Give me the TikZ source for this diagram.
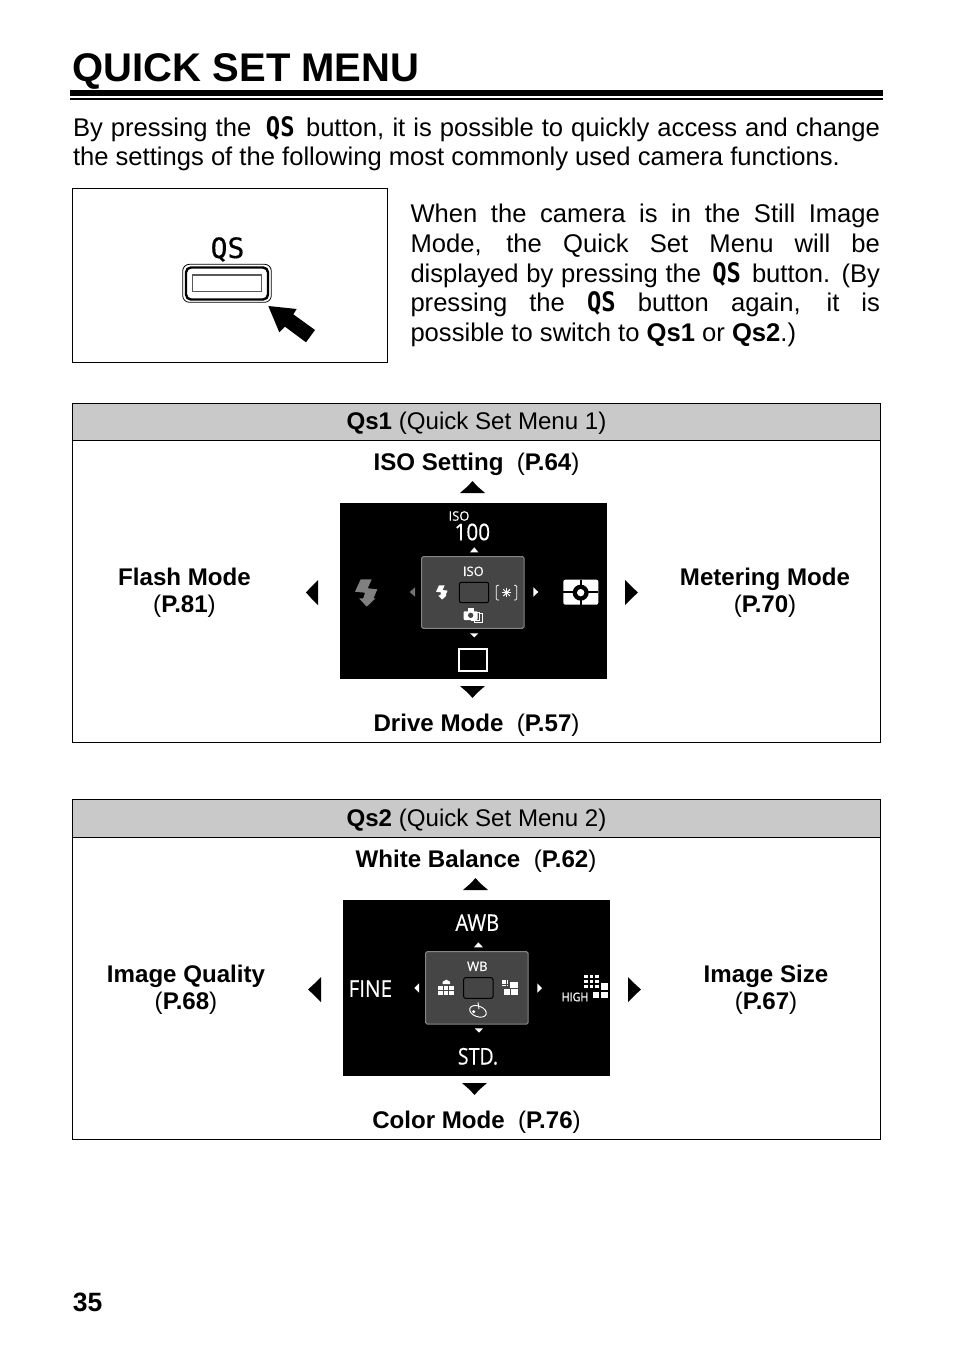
\documentclass[tikz,border=0pt]{standalone}
\usepackage{fontspec}
\setmainfont{Liberation Sans}
\newfontfamily\qsfamily{DejaVu Sans Mono}
\newfontfamily\qsmedium[FakeBold=0.4]{DejaVu Sans Mono}
\newfontfamily\lcdfamily[FakeBold=0.5]{Open Sans}
\newdimen\px \px=0.75pt
\newcommand{\fs}[1]{\fontsize{#1\px}{#1\px}\selectfont}
\newcommand{\QS}{{\qsfamily\bfseries\scalebox{0.93}[1.05]{QS}}}
\newcommand{\jl}[2]{\makebox[#1\px][s]{#2}}
\tikzset{
  body/.style={anchor=base west,inner sep=0pt,outer sep=0pt,font=\fs{25.6}},
  lab/.style={anchor=base,inner sep=0pt,outer sep=0pt,font=\fs{24.1}},
  lcd/.style={inner sep=0pt,outer sep=0pt,text=white},
  frame/.style={draw=black,line width=.75pt},
  panel/.style={fill=black!73,draw=black!48,line width=.75pt,rounded corners=1.1pt}
}
\newcommand{\bolt}[1]{\fill[#1,rounded corners=.3pt] (-5.3,-13.7)--(5.7,-13.7)--(1.7,-4.7)--(11.3,-3.7)--(7.5,5.3)--(9.5,5.3)--(.7,13.7)--(-7,5.3)--(-2.7,5.3)--(-1,-.3)--(-11,-1.3)--cycle;}
\newcommand{\scr}{%
  \fill[black] (15,15) rectangle (817,543);
}
\begin{document}
\begin{tikzpicture}[x=0.75pt,y=-0.75pt]
\useasboundingbox (0,0) rectangle (954,1348);
\fill[white] (0,0) rectangle (954,1348);
% title
\node[anchor=base west,inner sep=0pt,font=\fs{40}\bfseries] (title) at (72.5,81.5) {QUICK SET MENU};
\fill (70,90) rectangle (883,96);
\fill (70,98) rectangle (883,100.5);
% intro
\node[body] (l1) at (73,137) {\jl{807}{By pressing the\hspace{5pt} \QS\hspace{2.5pt} button, it is possible to quickly access and change}};
\node[body] (l2) at (73,166) {the settings of the following most commonly used camera functions.};
% side box
\draw[frame] (72.5,188.5) rectangle (387,362);
\node[anchor=base,inner sep=0pt,font=\fs{28}] (qsb) at (227.5,258) {\qsmedium QS};
\draw[black,line width=.6pt,rounded corners=5pt] (182.7,264.3) rectangle (271.3,302.3);
\draw[black,line width=1.8pt,rounded corners=3.7pt] (186,267.5) rectangle (268,299.5);
\draw[black!65,line width=.9pt] (192.3,275) rectangle (261.7,291.7);
\fill (268.3,306)--(296.7,309)--(293.3,314.3)--(315,330)--(306,342.3)--(285,326.7)--(279.3,332.3)--cycle;
\node[body] (r1) at (410.5,223) {\jl{469.5}{When the camera is in the Still Image}};
\node[body] (r2) at (410.5,252.5) {\jl{469.5}{Mode, the Quick Set Menu will be}};
\node[body] (r3) at (410.5,282) {\jl{469.5}{displayed by pressing the\hspace{2.5pt} \QS\hspace{2.5pt} button. (By}};
\node[body] (r4) at (410.5,311.5) {\jl{469.5}{pressing the \QS\ button again, it is}};
\node[body] (r5) at (410.5,341) {possible to switch to \textbf{Qs1} or \textbf{Qs2}.)};
% ---------- Qs1 table
\fill[black!21] (72,403) rectangle (880,440.5);
\draw[frame] (72,403) rectangle (880,742);
\draw[black,line width=.75pt] (72,440.5) -- (880,440.5);
\node[lab] (h1) at (476.5,429.5) {\textbf{Qs1} (Quick Set Menu 1)};
\node[lab] (iso) at (476.5,470) {\textbf{ISO Setting}\ \ (\textbf{P.64})};
\node[lab] (drive) at (476.5,731) {\textbf{Drive Mode}\ \ (\textbf{P.57})};
\node[lab] (fl) at (184.5,585) {\textbf{Flash Mode}};
\node[lab] (fl2) at (184.5,612) {(\textbf{P.81})};
\node[lab] (mm) at (765,585) {\textbf{Metering Mode}};
\node[lab] (mm2) at (765,612) {(\textbf{P.70})};
\fill (460,493)--(468,486)--(472.5,481)--(477,486)--(485,493)--cycle;
\fill (460,686)--(485,686)--(477,693)--(472.5,698)--(468,693)--cycle;
\fill (318,580)--(318,605)--(311,598)--(306,592.5)--(311,587)--cycle;
\fill (625,580)--(625,605)--(632,598)--(638,592.5)--(632,587)--cycle;
\begin{scope}[shift={(335,498)},x=.25pt,y=-.25pt]
  \scr
  \node[lcd,font=\lcdfamily\fs{13}] (s1a) at (372,54) {ISO};
  \node[lcd,font=\lcdfamily\fs{23}] (s1b) at (412,102) {\scalebox{.9}[1]{100}};
  \fill[white] (405,163)--(430,163)--(418,148)--cycle;
  \fill[black!55] (240,268)--(240,296)--(224,282)--cycle;
  \fill[white] (595,268)--(595,296)--(610,282)--cycle;
  \fill[white] (405,406)--(430,406)--(418,418)--cycle;
  \draw[panel] (260,176) rectangle (567,391);
  \draw[black,fill=black!73,line width=.75pt,rounded corners=1.5pt] (373,253) rectangle (461,314);
  \node[lcd,font=\lcdfamily\fs{13}] (s1c) at (415,220) {ISO};
  % spot metering
  \draw[white,line width=.6pt,rounded corners=.8pt] (492,262)--(484,262)--(484,306)--(492,306);
  \draw[white,line width=.6pt,rounded corners=.8pt] (537,262)--(545,262)--(545,306)--(537,306);
  \foreach \a in {0,45,...,135} \draw[white,line width=.75pt] (515,284)++(\a:14) -- ++(\a+180:28);
  % drive icon
  \draw[white,line width=.6pt] (418,346) rectangle (441,372);
  \draw[white,line width=.6pt,fill=black!73] (410,343) rectangle (434,368);
  \fill[white,rounded corners=.7pt] (386,340) rectangle (428,366);
  \fill[white] (398,331) rectangle (418,341);
  \fill[black!73] (407,352) circle (8);
  % square
  \draw[white,line width=1.35pt] (372,452) rectangle (456,518);
  % metering
  \fill[white,rounded corners=1.5pt] (685,245) rectangle (790,320);
  \fill[black] (685,280) rectangle (790,286);
  \fill[black] (735,245) rectangle (740,320);
  \fill[black] (737,284) circle (24);
  \fill[white] (737,284) circle (11);
\end{scope}
\begin{scope}[shift={(366,593)}]\bolt{black!50}\end{scope}
\begin{scope}[shift={(441.7,592.5)},scale=.52]\bolt{white}\end{scope}
% ---------- Qs2 table
\fill[black!21] (72,799) rectangle (880,837.5);
\draw[frame] (72,799) rectangle (880,1139);
\draw[black,line width=.75pt] (72,837.5) -- (880,837.5);
\node[lab] (h2) at (476.5,826.5) {\textbf{Qs2} (Quick Set Menu 2)};
\node[lab] (wb) at (476,867) {\textbf{White Balance}\ \ (\textbf{P.62})};
\node[lab] (cm) at (476.5,1128) {\textbf{Color Mode}\ \ (\textbf{P.76})};
\node[lab] (iq) at (186,982) {\textbf{Image Quality}};
\node[lab] (iq2) at (186,1009) {(\textbf{P.68})};
\node[lab] (is) at (766,982) {\textbf{Image Size}};
\node[lab] (is2) at (766,1009) {(\textbf{P.67})};
\fill (463,890)--(471,883)--(475.5,878)--(480,883)--(488,890)--cycle;
\fill (462,1083)--(487,1083)--(479,1090)--(474.5,1095)--(470,1090)--cycle;
\fill (321,977)--(321,1002)--(314,995)--(308,989.5)--(314,984)--cycle;
\fill (628,977)--(628,1002)--(635,995)--(641,989.5)--(635,984)--cycle;
\begin{scope}[shift={(338,895)},x=.25pt,y=-.25pt]
  \scr
  \node[lcd,font=\lcdfamily\fs{23}] (s2a) at (418,83) {\scalebox{.88}[1]{AWB}};
  \node[lcd,font=\lcdfamily\fs{23}] (s2b) at (97,281) {\scalebox{.9}[1]{FINE}};
  \node[lcd,font=\lcdfamily\fs{23}] (s2c) at (420,484) {\scalebox{.85}[1]{STD.}};
  \fill[white] (408,157)--(435,157)--(421,142)--cycle;
  \fill[white] (243,265)--(243,293)--(229,279)--cycle;
  \fill[white] (598,265)--(598,293)--(612,279)--cycle;
  \fill[white] (410,400)--(435,400)--(423,413)--cycle;
  \draw[panel] (263,170) rectangle (570,387);
  \draw[black,fill=black!73,line width=.75pt,rounded corners=1.5pt] (377,248) rectangle (465,310);
  \node[lcd,font=\lcdfamily\fs{13}] (s2d) at (418,214) {WB};
  % quality icon
  \foreach \i in {0,1,2} \foreach \j in {0,1} \fill[white] (300+\i*17,272+\j*15) rectangle ++(14,12);
  \fill[white] (314,260)--(325,254)--(336,260)--(336,267)--(314,267)--cycle;
  % size icon (panel)
  \foreach \i in {0,1,2} \foreach \j in {0,1,2} \fill[white] (492+\i*7,255+\j*7) rectangle ++(5,5);
  \fill[white] (516,262) rectangle (540,279);
  \fill[white] (498,283) rectangle (517,299);
  \fill[white] (520,283) rectangle (540,299);
  % palette
  \draw[white,line width=.7pt,rotate around={-20:(420,349)}] (420,349) ellipse (26 and 16);
  \fill[white] (407,350) circle (5);
  \draw[white,line width=.7pt] (423,342)--(420,322);
  % HIGH icon
  \node[lcd,font=\lcdfamily\fs{12}] (s2e) at (711,306) {\scalebox{.9}[1]{HIGH}};
  \foreach \i in {0,1,2} \foreach \j in {0,1,2} \fill[white] (739+\i*16,240+\j*15) rectangle ++(11,10);
  \fill[white] (788,265) rectangle (809,285);
  \fill[white] (766,292) rectangle (784,308);
  \fill[white] (788,292) rectangle (809,308);
\end{scope}
\node[anchor=base west,inner sep=0pt,font=\fs{26.5}\bfseries] (pg) at (72.5,1311) {35};
\end{tikzpicture}
\end{document}
